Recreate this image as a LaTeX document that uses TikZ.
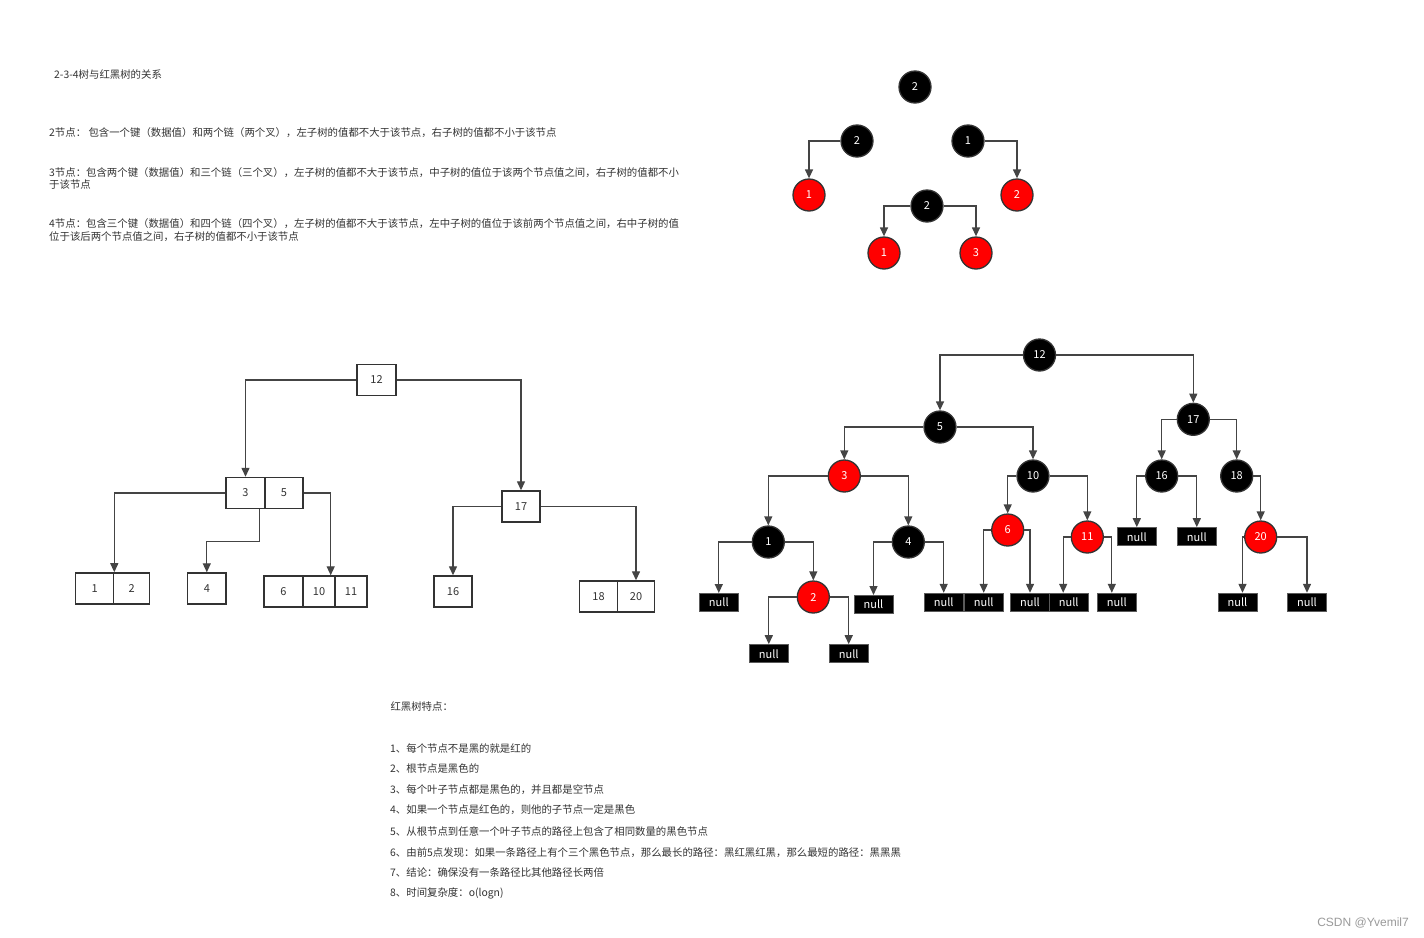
\documentclass[tikz,border=0pt]{standalone}
\usepackage{fontspec}
\setmainfont{Noto Sans CJK SC}
\newfontfamily\wmfont{Liberation Sans}
\usetikzlibrary{arrows.meta}
\definecolor{linec}{HTML}{444444}
\definecolor{ringc}{HTML}{333333}
\definecolor{rbred}{HTML}{FF0000}
\definecolor{keytxt}{HTML}{333333}
\definecolor{txtc}{HTML}{333333}
\definecolor{nullring}{HTML}{5A5A5A}
\definecolor{wmark}{HTML}{9A9A9A}
\begin{document}
\begin{tikzpicture}[x=1pt,y=-1pt,
  link/.style={draw=linec, line width=1.3pt, -{Triangle[length=9pt,width=8pt]}},
  kbox/.style={draw=ringc, line width=1.4pt, inner sep=0pt, minimum height=31pt,
    text=keytxt, font=\fontsize{11}{13}\selectfont},
  blk/.style={circle, fill=black, draw=ringc, line width=1.3pt, minimum size=32pt,
    inner sep=0pt, text=white, font=\fontsize{11}{13}\selectfont},
  rednode/.style={blk, fill=rbred},
  nul/.style={fill=black, draw=nullring, line width=1pt, minimum width=39pt,
    minimum height=18pt, inner sep=0pt, text=white, font=\fontsize{11}{13}\selectfont},
  para/.style={anchor=base west, inner sep=0pt, text=txtc, font=\fontsize{10.4}{12.7}\selectfont},
]
\fill[white] (0,0) rectangle (1424,937);
\useasboundingbox (0,0) rectangle (1424,937);

% ---------- notes on 2-3-4 trees ----------
\node[para] (h1) at (54,78.8) {2-3-4树与红黑树的关系};
\node[para] (p2) at (49,136.5) {2节点： 包含一个键（数据值）和两个链（两个叉），左子树的值都不大于该节点，右子树的值都不小于该节点};
\node[para] (p3a) at (49,176) {3节点：包含两个键（数据值）和三个链（三个叉），左子树的值都不大于该节点，中子树的值位于该两个节点值之间，右子树的值都不小};
\node[para] (p3b) at (49,188.7) {于该节点};
\node[para] (p4a) at (49,227.8) {4节点：包含三个键（数据值）和四个链（四个叉），左子树的值都不大于该节点，左中子树的值位于该前两个节点值之间，右中子树的值};
\node[para] (p4b) at (49,240.5) {位于该后两个节点值之间，右子树的值都不小于该节点};

% ---------- small red-black examples ----------
\node[blk] (t0) at (915,87) {2};
\node[blk] (ta) at (857,141) {2};
\node[blk] (tb) at (968,141) {1};
\node[rednode] (tc) at (809,195) {1};
\node[rednode] (td) at (1017,195) {2};
\node[blk] (te) at (927,206) {2};
\node[rednode] (tf) at (884,253) {1};
\node[rednode] (tg) at (976,253) {3};
\draw[link] (ta.west) -| (tc.north);
\draw[link] (tb.east) -| (td.north);
\draw[link] (te.west) -| (tf.north);
\draw[link] (te.east) -| (tg.north);

% ---------- 2-3-4 tree ----------
\node[kbox, minimum width=39pt] (c12) at (376.5,380) {12};
\node[kbox, minimum width=39pt] (c3) at (245.5,493) {3};
\node[kbox, minimum width=38pt] (c5) at (284,493) {5};
\node[kbox, minimum width=38pt] (c17) at (521,506.5) {17};
\node[kbox, minimum width=38pt] (c1) at (94.6,588.4) {1};
\node[kbox, minimum width=36pt] (c2) at (131.6,588.4) {2};
\node[kbox, minimum width=38.5pt] (c4) at (206.8,588.5) {4};
\node[kbox, minimum width=39pt] (c6) at (283.5,591.5) {6};
\node[kbox, minimum width=32pt] (c10) at (319,591.5) {10};
\node[kbox, minimum width=32pt] (c11) at (351,591.5) {11};
\node[kbox, minimum width=38pt] (c16) at (453,591.5) {16};
\node[kbox, minimum width=38pt] (c18) at (598.5,596.5) {18};
\node[kbox, minimum width=37pt] (c20) at (636,596.5) {20};
\draw[link] (c12.west) -| (c3.north);
\draw[link] (c12.east) -| (c17.north);
\draw[link] (c3.west) -| (c1.north east);
\draw[link] ([xshift=-6pt]c3.south east) -- ++(0,32) -| (c4.north);
\draw[link] (c5.east) -| ([xshift=-5pt]c10.north east);
\draw[link] (c17.west) -| (c16.north);
\draw[link] (c17.east) -| (c20.north);

% ---------- red-black tree ----------
\node[blk] (r12) at (1039.5,355) {12};
\node[blk] (r5) at (940,427) {5};
\node[rednode] (r3) at (844.3,476) {3};
\node[blk] (r10) at (1033,476) {10};
\node[blk] (r1) at (768.3,542) {1};
\node[blk] (r4) at (908.3,542) {4};
\node[rednode] (r2) at (813.3,597) {2};
\node[rednode] (r6) at (1007.7,530) {6};
\node[blk] (r17) at (1193.3,419.3) {17};
\node[blk] (r16) at (1161.7,476) {16};
\node[blk] (r18) at (1236.7,476) {18};
\node[rednode] (r11) at (1087.3,537) {11};
\node[rednode] (r20) at (1260.7,537) {20};

\node[nul] (z1) at (718.8,602.5) {null};
\node[nul] (z2a) at (768.8,653.7) {null};
\node[nul] (z2b) at (848.7,653.7) {null};
\node[nul] (z4a) at (873.5,604.5) {null};
\node[nul] (z4b) at (943.7,602.3) {null};
\node[nul] (z6a) at (983.7,602.3) {null};
\node[nul] (z6b) at (1030,602.3) {null};
\node[nul] (z11a) at (1068.7,602.3) {null};
\node[nul] (z11b) at (1116.8,602.3) {null};
\node[nul] (z16a) at (1136.8,536.7) {null};
\node[nul] (z16b) at (1196.8,536.7) {null};
\node[nul] (z20a) at (1237.5,602.3) {null};
\node[nul] (z20b) at (1307,602.3) {null};

\draw[link] (r12.west) -| (r5.north);
\draw[link] (r12.east) -| (r17.north);
\draw[link] (r5.west) -| (r3.north);
\draw[link] (r5.east) -| (r10.north);
\draw[link] (r3.west) -| (r1.north);
\draw[link] (r3.east) -| (r4.north);
\draw[link] (r10.west) -| (r6.north);
\draw[link] (r10.east) -| (r11.north);
\draw[link] (r1.west) -| (z1.north);
\draw[link] (r1.east) -| (r2.north);
\draw[link] (r2.west) -| (z2a.north);
\draw[link] (r2.east) -| (z2b.north);
\draw[link] (r4.west) -| (z4a.north);
\draw[link] (r4.east) -| (z4b.north);
\draw[link] (r6.west) -| (z6a.north);
\draw[link] (r6.east) -| (z6b.north);
\draw[link] (r11.west) -| ([xshift=-5.5pt]z11a.north);
\draw[link] (r11.east) -| ([xshift=-5pt]z11b.north);
\draw[link] (r17.west) -| (r16.north);
\draw[link] (r17.east) -| (r18.north);
\draw[link] (r16.west) -| (z16a.north);
\draw[link] (r16.east) -| (z16b.north);
\draw[link] (r18.east) -| (r20.north);
\draw[link] (r20.west) -| ([xshift=5pt]z20a.north);
\draw[link] (r20.east) -| (z20b.north);

% ---------- properties list ----------
\node[para] (q0) at (390.3,710.7) {红黑树特点：};
\node[para] (q1) at (390,752.8) {1、每个节点不是黑的就是红的};
\node[para] (q2) at (390,772.8) {2、根节点是黑色的};
\node[para] (q3) at (390,793.1) {3、每个叶子节点都是黑色的，并且都是空节点};
\node[para] (q4) at (390,813.8) {4、如果一个节点是红色的，则他的子节点一定是黑色};
\node[para] (q5) at (390,835.1) {5、从根节点到任意一个叶子节点的路径上包含了相同数量的黑色节点};
\node[para] (q6) at (390,856.5) {6、由前5点发现：如果一条路径上有个三个黑色节点，那么最长的路径：黑红黑红黑，那么最短的路径：黑黑黑};
\node[para] (q7) at (390,876.5) {7、结论：确保没有一条路径比其他路径长两倍};
\node[para] (q8) at (390,896.5) {8、时间复杂度：o(logn)};

\node[anchor=base east, inner sep=0pt, text=wmark, font=\wmfont\fontsize{12}{14}\selectfont] (wm) at (1409,926) {CSDN @Yvemil7};
\end{tikzpicture}
\end{document}
